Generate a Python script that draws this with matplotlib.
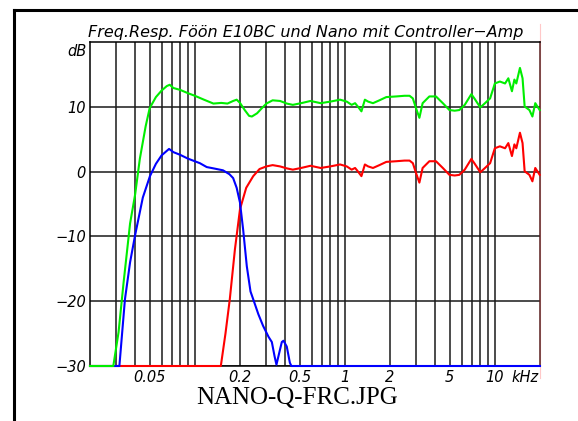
import numpy as np
import matplotlib.pyplot as plt
from matplotlib.lines import Line2D
from matplotlib.ticker import FixedLocator, NullFormatter

# frequency response readings (kHz, dB)
red_f = [0.02, 0.149, 0.16, 0.171, 0.185, 0.2, 0.22, 0.245, 0.27, 0.3, 0.33, 0.37,
         0.41, 0.45, 0.52, 0.59, 0.69, 0.8, 0.93, 1.03, 1.11, 1.17, 1.22, 1.29,
         1.36, 1.43, 1.54, 1.7, 1.89, 2.2, 2.5, 2.7, 2.84, 2.98, 3.14, 3.3, 3.66,
         4.05, 4.5, 4.98, 5.4, 5.8, 6.3, 6.97, 7.3, 8.0, 8.6, 9.3, 10.0, 10.8,
         11.7, 12.3, 13.0, 13.5, 13.9, 14.7, 15.3, 15.8, 17.0, 17.8, 18.6, 19.9]
red_db = [-30, -30, -25, -19.7, -12, -5.8, -2.5, -0.7, 0.4, 0.8, 1.0, 0.8,
          0.5, 0.3, 0.6, 0.9, 0.56, 0.8, 1.1, 0.8, 0.3, 0.56, 0.05, -0.7,
          1.1, 0.8, 0.56, 1.0, 1.5, 1.6, 1.7, 1.7, 1.3, -0.2, -1.7, 0.56, 1.6,
          1.6, 0.56, -0.5, -0.6, -0.5, 0.3, 1.95, 1.3, -0.1, 0.56, 1.3, 3.6, 3.9,
          3.6, 4.4, 2.4, 4.2, 3.6, 6.0, 4.4, 0.05, -0.5, -1.5, 0.56, -0.5]

blue_f = [0.02, 0.0314, 0.0342, 0.037, 0.0399, 0.045, 0.0502, 0.055, 0.06, 0.0673,
          0.072, 0.0796, 0.09, 0.108, 0.12, 0.133, 0.154, 0.17, 0.18, 0.19, 0.2,
          0.21, 0.222, 0.235, 0.245, 0.265, 0.285, 0.31, 0.326, 0.34, 0.35, 0.365,
          0.38, 0.39, 0.41, 0.43, 0.44, 20.0]
blue_db = [-30, -30, -19.7, -14, -9.9, -4, -0.7, 1.2, 2.5, 3.5,
           3.0, 2.6, 2.0, 1.3, 0.7, 0.5, 0.2, -0.4, -1.0, -2.5, -4.8,
           -9, -14.6, -18.5, -19.7, -22, -23.8, -25.5, -26.3, -28.5, -29.8, -28,
           -26.3, -26.1, -27, -29.5, -30, -30]

green_f = [0.02, 0.0286, 0.031, 0.0335, 0.037, 0.04, 0.043, 0.047, 0.05, 0.055,
           0.06, 0.065, 0.068, 0.072, 0.08, 0.09, 0.1, 0.115, 0.133, 0.15, 0.165,
           0.18, 0.19, 0.2, 0.215, 0.23, 0.24, 0.26, 0.28, 0.3, 0.33, 0.37, 0.41,
           0.45, 0.52, 0.59, 0.69, 0.8, 0.93, 1.03, 1.11, 1.17, 1.22, 1.29,
           1.36, 1.43, 1.54, 1.7, 1.89, 2.2, 2.5, 2.7, 2.84, 2.98, 3.14, 3.3, 3.66,
           4.05, 4.5, 4.98, 5.4, 5.8, 6.3, 6.97, 7.3, 8.0, 8.6, 9.3, 10.0, 10.8,
           11.7, 12.3, 13.0, 13.5, 13.9, 14.7, 15.3, 15.8, 17.0, 17.8, 18.6, 19.9]
green_db = [-30, -30, -24.8, -17.1, -8, -3.5, 2.0, 7.0, 9.8, 11.5,
            12.5, 13.2, 13.4, 12.9, 12.6, 12.1, 11.7, 11.1, 10.5, 10.6, 10.5,
            10.9, 11.1, 10.6, 9.5, 8.6, 8.5, 9.0, 9.8, 10.5, 11.0, 10.9, 10.5,
            10.3, 10.6, 10.9, 10.56, 10.8, 11.1, 10.8, 10.3, 10.56, 10.05, 9.3,
            11.1, 10.8, 10.56, 11.0, 11.5, 11.6, 11.7, 11.7, 11.3, 9.8, 8.3, 10.56, 11.6,
            11.6, 10.56, 9.5, 9.4, 9.5, 10.3, 11.95, 11.3, 9.9, 10.56, 11.3, 13.6, 13.9,
            13.6, 14.4, 12.4, 14.2, 13.6, 16.0, 14.4, 10.05, 9.5, 8.5, 10.56, 9.5]

x_major = [0.05, 0.2, 0.5, 1, 2, 5, 10]
x_labels = ['0.05', '0.2', '0.5', '1', '2', '5', '10']
y_ticks = [-30, -20, -10, 0, 10]
y_labels = ['\u221230', '\u221220', '\u221210', '0', '10']

W, H = 578, 421
fig = plt.figure(figsize=(W / 100, H / 100), dpi=100)
ax = fig.add_axes([90 / W, 1 - 366 / H, 450 / W, 324 / H])

ax.plot(red_f, red_db, color='#ff0000', lw=1.5, zorder=3, clip_on=False)
ax.plot(blue_f, blue_db, color='#0000ff', lw=1.5, zorder=4, clip_on=False)
ax.plot(green_f, green_db, color='#00ee00', lw=1.5, zorder=5, clip_on=False)

ax.set_xscale('log')
ax.set_xlim(0.02, 20)
ax.set_ylim(-30, 20)

minor = [m * d for d in (0.01, 0.1, 1) for m in range(2, 10)]
minor = [v for v in minor if 0.02 < v < 20 and v not in x_major] + [0.1]
ax.xaxis.set_major_locator(FixedLocator(x_major))
ax.xaxis.set_minor_locator(FixedLocator(minor))
ax.xaxis.set_minor_formatter(NullFormatter())
ax.set_xticklabels(x_labels, fontstyle='italic', fontsize=10.5)
ax.set_yticks(y_ticks)
ax.set_yticklabels(y_labels, fontstyle='italic', fontsize=10.5)
ax.tick_params(which='both', length=0)
ax.tick_params(axis='x', pad=3)
ax.tick_params(axis='y', pad=3)
ax.grid(which='both', axis='x', color='#1a1a1a', lw=1.1)
ax.grid(which='major', axis='y', color='#1a1a1a', lw=1.1)
ax.set_axisbelow(True)
for s in ax.spines.values():
    s.set_linewidth(1.1)
ax.spines['right'].set_color('#5a2020')

ax.text(538 / 540, -4.2 / 324, 'kHz', transform=ax.transAxes,
        ha='right', va='top', fontstyle='italic', fontsize=10.5)
ax.text(-3.5 / 450, 18.5, 'dB', transform=ax.get_yaxis_transform(),
        ha='right', va='center', fontstyle='italic', fontsize=10.5)

fig.text(88 / W, 1 - 32 / H, 'Freq.Resp. Föön E10BC und Nano mit Controller\u2212Amp',
         ha='left', va='center', fontstyle='italic', fontsize=11.5)
fig.text(297 / W, 1 - 398 / H, 'NANO-Q-FRC.JPG', ha='center', va='center',
         family='Liberation Serif', fontsize=18)

# outer frame and thin marker line at the right edge
fig.add_artist(Line2D([14 / W, 1], [1 - 10 / H, 1 - 10 / H], color='black', lw=2.2))
fig.add_artist(Line2D([14 / W, 14 / W], [1 - 10 / H, 0], color='black', lw=2.2))
fig.add_artist(Line2D([540 / W, 540 / W], [1 - 24 / H, 1 - 378 / H],
                      color='#ffc8c8', lw=0.8, zorder=0))

fig.savefig('out.png', dpi=100)
